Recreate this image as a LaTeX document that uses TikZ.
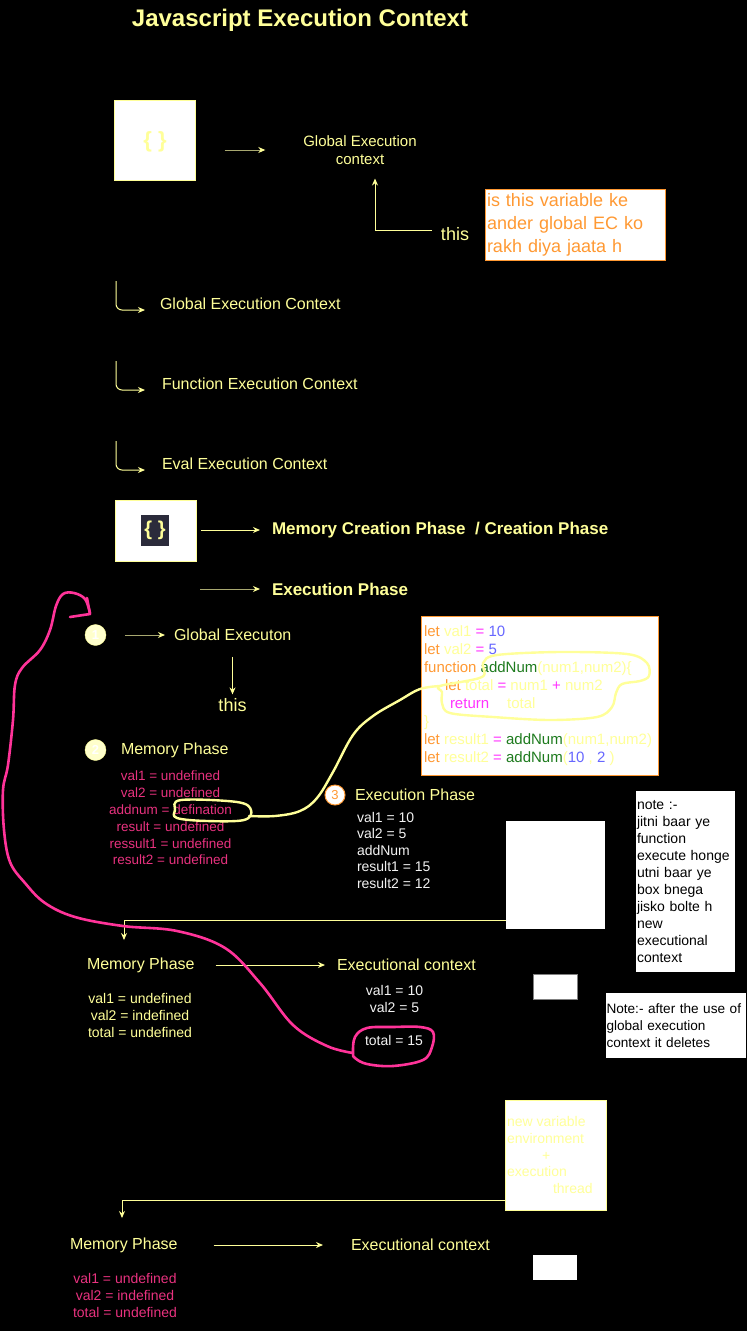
\documentclass[tikz,border=0pt]{standalone}
\usepackage{fontspec}
\setmainfont{Liberation Sans}
\usetikzlibrary{arrows.meta,calc}
\definecolor{ylw}{HTML}{FFFF99}
\definecolor{olv}{HTML}{A8A870}
\definecolor{pnk}{HTML}{FF3399}
\definecolor{pnktxt}{HTML}{E8327F}
\definecolor{org}{HTML}{FF9933}
\definecolor{cblue}{HTML}{6666FF}
\definecolor{cgreen}{HTML}{1E7B1E}
\definecolor{cmag}{HTML}{FF33FF}
\definecolor{wtxt}{HTML}{F2F2F2}
\definecolor{cream}{HTML}{FFFFCC}
\definecolor{darkbg}{HTML}{2B2B3B}
\newcommand\fsz[2]{\fontsize{#1}{#2}\selectfont}
\newcommand\kw[1]{\textcolor{org}{#1}}
\newcommand\vr[1]{\textcolor{ylw}{#1}}
\newcommand\op[1]{\textcolor{cmag}{#1}}
\newcommand\nm[1]{\textcolor{cblue}{#1}}
\newcommand\fn[1]{\textcolor{cgreen}{#1}}
\begin{document}
\begin{tikzpicture}[x=1pt,y=-1pt,
  every node/.style={inner sep=0pt, outer sep=0pt},
  lbl/.style={text=ylw, anchor=west},
  arr/.style={draw=ylw, line width=1pt, -{Stealth[length=7pt,width=6pt]}},
  arrolv/.style={draw=olv, line width=1pt, -{Stealth[length=7pt,width=6pt,color=ylw,fill=ylw]}},
  wbox/.style={fill=white, anchor=north west},
  circ/.style={circle, minimum size=21pt, fill=cream, draw=ylw, text=white, font=\bfseries\fsz{13}{15}},
  pinkline/.style={draw=pnk, line width=2.6pt, line cap=round, line join=round},
  ylwline/.style={draw=ylw, line width=2.4pt, line cap=round, line join=round}
]
\useasboundingbox (0,0) rectangle (747,1331);
\fill[black] (0,0) rectangle (747,1331);

% title
\node[font=\bfseries\fsz{24}{28}, text=ylw] (title) at (300,20) {Javascript Execution Context};

% top section
\node[draw=ylw, fill=white, line width=0.8pt, minimum width=81pt, minimum height=80pt] (box1) at (155,140) {};
\node[text=ylw, font=\bfseries\fsz{22}{26}] (br1) at (155,142) {\{ \}};
\node[text=ylw, align=center, font=\fsz{15}{18}] (gec) at (360,150) {Global Execution\\context};
\draw[arrolv, shorten <=29pt, shorten >=38pt] (box1.east |- gec.west) -- (gec.west);

\node[text=ylw, font=\fsz{18}{21}] (this1) at (455,234) {this};
\coordinate (t1s) at (432,230);
\draw[arr] (t1s) -| ([xshift=15pt,yshift=-14pt]gec.south);

\node[draw=org, fill=white, line width=1pt, anchor=north west, minimum width=180pt, minimum height=71pt,
      text width=176pt, inner sep=2pt, align=left, text=org, font=\fsz{18}{23}] (obox) at (485,189)
      {is this variable ke\\ander global EC ko\\rakh diya jaata h};

% types
\node[lbl, font=\fsz{16}{19}] (l1) at (160,304) {Global Execution Context};
\node[lbl, font=\fsz{16}{19}] (l2) at (162,384) {Function Execution Context};
\node[lbl, font=\fsz{16}{19}] (l3) at (162,464) {Eval Execution Context};
\coordinate (c1) at (116,281);
\coordinate (c2) at (116,361);
\coordinate (c3) at (116,441);
\draw[arr, rounded corners=6pt] (c1) |- ([xshift=-15pt,yshift=-6pt]l1.west);
\draw[arr, rounded corners=6pt] (c2) |- ([xshift=-17pt,yshift=-6pt]l2.west);
\draw[arr, rounded corners=6pt] (c3) |- ([xshift=-17pt,yshift=-6pt]l3.west);

% phases
\node[draw=ylw, fill=white, line width=0.8pt, minimum width=81pt, minimum height=61pt] (box2) at (155.5,530.5) {};
\node[fill=darkbg, minimum width=28pt, minimum height=31pt, text=ylw, font=\bfseries\fsz{20}{24}] (br2) at (155,530.5) {\{ \}};
\node[lbl, font=\bfseries\fsz{17}{20}] (mcp) at (272,530) {Memory Creation Phase~ / Creation Phase};
\node[lbl, font=\bfseries\fsz{17}{20}] (ep) at (272,589) {Execution Phase};
\draw[arr, shorten <=5pt, shorten >=12pt] (box2.east |- mcp.west) -- (mcp.west);
\draw[arrolv, shorten <=4pt, shorten >=12pt] (box2.east |- ep.west) -- (ep.west);

% step 1
\node[circ] (n1) at (95.5,635) {1};
\node[lbl, font=\fsz{16}{19}] (ge) at (174,635) {Global Executon};
\draw[arrolv, shorten <=19pt, shorten >=9pt] (n1.east) -- (ge.west);
\node[text=ylw, font=\fsz{18}{21}] (this2) at (232.5,705) {this};
\draw[arr, shorten <=16pt, shorten >=4pt] (ge.south -| this2.north) -- (this2.north);

% step 2
\node[circ] (n2) at (95.5,750) {2};
\node[lbl, font=\fsz{16}{19}] (mp1) at (121,750) {Memory Phase};
\node[text=pnktxt, align=center, font=\fsz{13.5}{16.8}] (mem1) at (170.5,818)
  {val1 = undefined\\val2 = undefined\\addnum = defination\\result = undefined\\ressult1 = undefined\\result2 = undefined};

% code box
\node[draw=org, fill=white, line width=1pt, anchor=north west, minimum width=237pt, minimum height=159pt] (code) at (421,616) {};
\node[anchor=west, align=left, font=\fsz{15}{18}] (codetxt) at (424,696) {%
\kw{let} \vr{val1} \op{=} \nm{10}\\
\kw{let} \vr{val2} \op{=} \nm{5}\\
\kw{function} \fn{addNum}\vr{(num1,num2)\{}\\
\hspace*{21pt}\kw{let} \vr{total} \op{=} \vr{num1} \op{+} \vr{num2}\\
\hspace*{26pt}\op{return}\hspace{18pt}\vr{total}\\
\vr{\}}\\
\kw{let} \vr{result1} \op{=} \fn{addNum}\vr{(num1,num2)}\\
\kw{let} \vr{result2} \op{=} \fn{addNum}\vr{(}\nm{10} \vr{,} \nm{2} \vr{)}};

% step 3
\node[circle, draw=org, fill=white, line width=1pt, text=org, minimum size=20pt, font=\fsz{13}{15}] (n3) at (335,795) {3};
\node[lbl, font=\fsz{16}{19}] (ep3) at (355,795) {Execution Phase};
\node[text=wtxt, anchor=west, align=left, font=\fsz{14}{16.5}] (ex3) at (357,850)
  {val1 = 10\\val2 = 5\\addNum\\result1 = 15\\result2 = 12};

% right side boxes
\node[wbox, minimum width=99pt, minimum height=108pt] (wboxA) at (506,821) {};
\node[wbox, minimum width=99pt, minimum height=181pt, text width=97pt, inner sep=1pt, align=left,
      text=black, font=\fsz{14}{16.9}] (note1) at (636,791)
  {note :-\\jitni baar ye\\function\\execute honge\\utni baar ye\\box bnega\\jisko bolte h\\new\\executional\\context};
\node[wbox, draw=gray, line width=0.8pt, minimum width=44pt, minimum height=25pt] (sbox1) at (533,974) {};
\node[wbox, minimum width=139pt, minimum height=65pt, text width=139pt, inner sep=0.5pt, align=left,
      text=black, font=\fsz{13.6}{16.9}] (note2) at (606,993)
  {Note:- after the use of\\global execution\\context it deletes};

% function EC 1
\coordinate (a2end) at (124,940);
\draw[arr] ([yshift=-45pt]wboxA.west) -| (a2end);
\node[lbl, font=\fsz{16}{19}] (mp2) at (87,965) {Memory Phase};
\node[lbl, font=\fsz{16}{19}] (ec2) at (337,965) {Executional context};
\draw[arr, shorten <=21pt, shorten >=12pt] (mp2.east) -- (ec2.west);
\node[text=ylw, align=center, font=\fsz{14}{17}] (mem2) at (140,1015)
  {val1 = undefined\\val2 = indefined\\total = undefined};
\node[text=wtxt, align=center, font=\fsz{14}{17}] (ex2) at (394.5,998.5) {val1 = 10\\val2 = 5};
\node[text=wtxt, font=\fsz{14}{16}] (tot) at (394,1040) {total = 15};

% function EC 2
\node[wbox, draw=ylw, line width=0.8pt, minimum width=101pt, minimum height=110pt] (nvbox) at (505,1100) {};
\node[anchor=west, align=left, text=ylw, font=\fsz{14}{16.8}] (nvtxt) at (507,1155)
  {new variable\\environment\\\hspace*{35pt}+\\execution\\\hspace*{46pt}thread};
\coordinate (a3end) at (122,1218);
\draw[arr] ([yshift=-45pt]nvbox.west) -| (a3end);
\node[lbl, font=\fsz{16}{19}] (mp3) at (70,1245) {Memory Phase};
\node[lbl, font=\fsz{16}{19}] (ec3) at (351,1245) {Executional context};
\draw[arr, shorten <=36pt, shorten >=28pt] (mp3.east) -- (ec3.west);
\node[text=pnktxt, align=center, font=\fsz{14}{17}] (mem3) at (125,1295)
  {val1 = undefined\\val2 = indefined\\total = undefined};
\node[wbox, minimum width=44pt, minimum height=25pt] (sbox2) at (533,1255) {};

% yellow hand-drawn highlight
\draw[ylwline] plot[smooth cycle, tension=0.6] coordinates {(175,810) (181,800) (237,802) (251,810) (244,820) (207,821) (177,818)};
\draw[ylwline] plot[smooth, tension=0.6] coordinates {(249,816) (275,816) (300,811) (317,798) (333,772) (353,735) (373,716) (400,700) (420,689) (440,686)};
\draw[ylwline] plot[smooth cycle, tension=0.55] coordinates {(440,686) (482,677) (483,663) (497,655) (560,652) (627,654) (647,663) (649,676) (640,681) (622,684) (616,693) (612,707) (597,717) (550,720) (493,717) (450,713) (442,703) (442,692)};

% pink hand-drawn
\draw[pinkline] plot[smooth cycle, tension=0.6] coordinates {(353,1053) (355,1037) (367,1028) (393,1027) (420,1027) (433,1032) (432,1047) (423,1060) (393,1066) (367,1064) (355,1058)};
\draw[pinkline] plot[smooth, tension=0.6] coordinates {(90,613) (85,599) (74,593) (63,594) (56,606) (50,630) (40,650) (22,668) (15,685) (13,720) (8,765) (3,790) (4,830) (10,862) (25,883) (45,903) (75,917) (123,926) (177,931) (225,948) (260,983) (293,1025) (327,1046) (353,1053)};
\draw[pinkline] (70,617) -- (90,614) -- (87,598);
\end{tikzpicture}
\end{document}
